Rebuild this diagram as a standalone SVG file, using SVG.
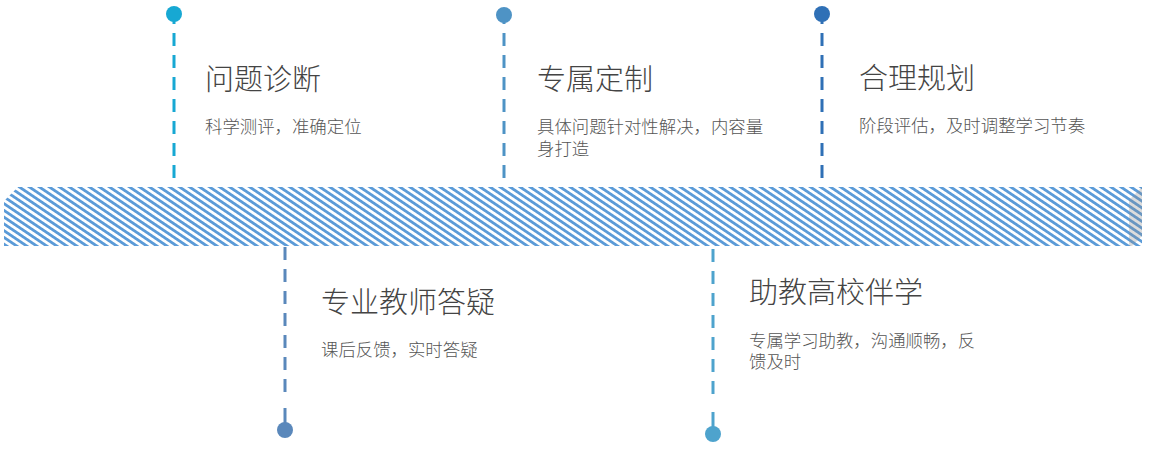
<svg xmlns="http://www.w3.org/2000/svg" width="1149" height="459" viewBox="0 0 1149 459">
<style>
.t{font-family:"Noto Sans CJK SC","Noto Sans",sans-serif;font-size:29px;font-weight:300;fill:#444444}
.s{font-family:"Noto Sans CJK SC","Noto Sans",sans-serif;font-size:17.4px;font-weight:300;fill:#555555}
.d{fill:none;stroke-width:3;stroke-dasharray:13 9}
.st{fill:none;stroke-width:3}
</style>
<defs>
<pattern id="hatch" patternUnits="userSpaceOnUse" width="5.6" height="20" patternTransform="rotate(-56)">
<rect x="0" y="0" width="5.6" height="20" fill="#ffffff"/>
<rect x="0" y="0" width="2.8" height="20" fill="#5b9bd8"/>
</pattern>
</defs>
<g id="band">
<polygon points="4,201 18,187 1142,187 1142,246 4,246" fill="url(#hatch)"/>
<polygon points="1129,200 1142,187 1142,236 1132,246 1129,246" fill="#8c8c8c" fill-opacity="0.3"/>
</g>
<g id="connectors">
<line class="st" x1="174" y1="14" x2="174" y2="24" stroke="#17a8d3"/>
<line class="d" x1="174" y1="33" x2="174" y2="187" stroke="#17a8d3"/>
<line class="st" x1="504" y1="15" x2="504" y2="24" stroke="#4e93c5"/>
<line class="d" x1="504" y1="33" x2="504" y2="187" stroke="#4e93c5"/>
<line class="st" x1="822" y1="14" x2="822" y2="24" stroke="#2f70b6"/>
<line class="d" x1="822" y1="33" x2="822" y2="187" stroke="#2f70b6"/>
<line class="d" x1="285" y1="247" x2="285" y2="400" stroke="#5a88bb"/>
<line class="st" x1="285" y1="408" x2="285" y2="430" stroke="#5a88bb"/>
<line class="d" x1="713" y1="249" x2="713" y2="401" stroke="#4ea3cd"/>
<line class="st" x1="713" y1="412" x2="713" y2="434" stroke="#4ea3cd"/>
</g>
<g id="node1">
<circle cx="174" cy="14" r="8" fill="#17a8d3"/>
<text class="t" x="205" y="90">问题诊断</text>
<text class="s" x="205" y="132.5">科学测评，准确定位</text>
</g>
<g id="node2">
<circle cx="504" cy="15" r="8" fill="#4e93c5"/>
<text class="t" x="537" y="90">专属定制</text>
<text class="s" x="537" y="132.5">具体问题针对性解决，内容量</text>
<text class="s" x="537" y="154.5">身打造</text>
</g>
<g id="node3">
<circle cx="822" cy="14" r="8" fill="#2f70b6"/>
<text class="t" x="859" y="89">合理规划</text>
<text class="s" x="859" y="132">阶段评估，及时调整学习节奏</text>
</g>
<g id="node4">
<circle cx="285" cy="430" r="8" fill="#5a88bb"/>
<text class="t" x="321" y="313">专业教师答疑</text>
<text class="s" x="321" y="356">课后反馈，实时答疑</text>
</g>
<g id="node5">
<circle cx="713" cy="434" r="8" fill="#4ea3cd"/>
<text class="t" x="749" y="303">助教高校伴学</text>
<text class="s" x="749" y="346.5">专属学习助教，沟通顺畅，反</text>
<text class="s" x="749" y="368">馈及时</text>
</g>
</svg>
